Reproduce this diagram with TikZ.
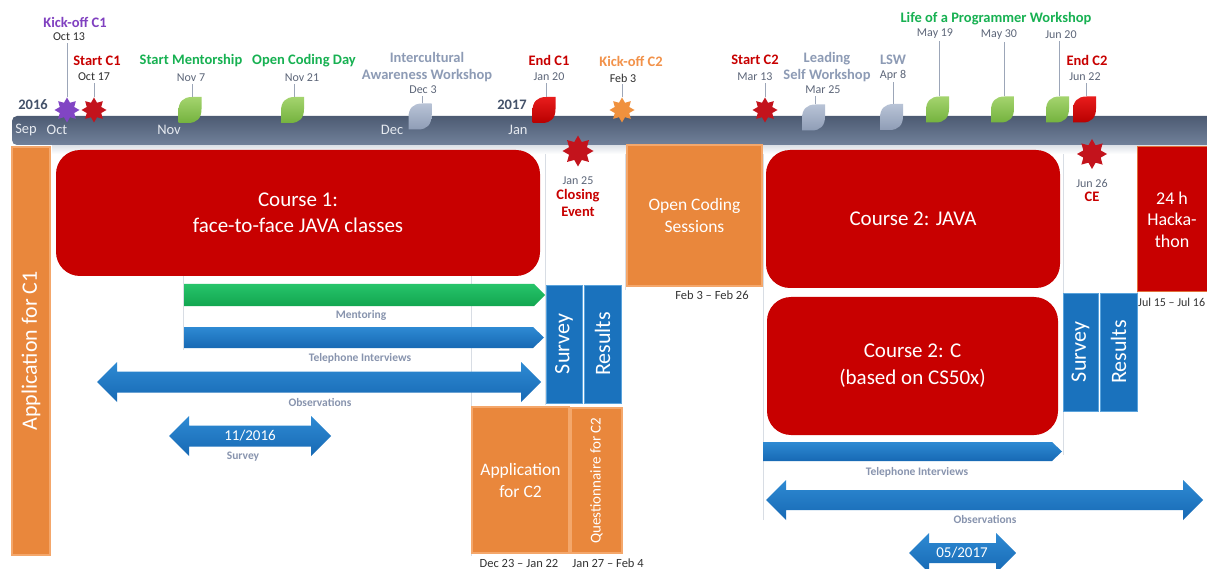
\documentclass[tikz,border=0pt]{standalone}
\usepackage{fontspec}
\setmainfont{Carlito}
\usetikzlibrary{shapes.geometric,positioning}
\definecolor{BarTop}{HTML}{4D5B73}
\definecolor{BarBot}{HTML}{71819A}
\definecolor{MonthWhite}{HTML}{E6EAF0}
\definecolor{YearSlate}{HTML}{44526A}
\definecolor{BoxRed}{HTML}{C80000}
\definecolor{HackEdge}{HTML}{E0703A}
\definecolor{BoxOrange}{HTML}{E9873C}
\definecolor{OrangeEdge}{HTML}{F4A76B}
\definecolor{BoxBlue}{HTML}{1A72BD}
\definecolor{BlueEdge}{HTML}{5AA3DC}
\definecolor{BlueTop}{HTML}{2E8AD3}
\definecolor{BlueBot}{HTML}{1769B4}
\definecolor{GreenTop}{HTML}{27C46A}
\definecolor{GreenBot}{HTML}{12A650}
\definecolor{LeafGreenTop}{HTML}{A4D46E}
\definecolor{LeafGreenBot}{HTML}{74B23E}
\definecolor{LeafRedTop}{HTML}{E81C1C}
\definecolor{LeafRedBot}{HTML}{B80000}
\definecolor{LeafGreyTop}{HTML}{B8C3D6}
\definecolor{LeafGreyBot}{HTML}{8F9DB6}
\definecolor{StarPurple}{HTML}{8145C4}
\definecolor{StarRed}{HTML}{C3131C}
\definecolor{StarOrange}{HTML}{F0913E}
\definecolor{TxtRed}{HTML}{C80000}
\definecolor{TxtGreen}{HTML}{17B152}
\definecolor{TxtSlate}{HTML}{8D9BB5}
\definecolor{TxtOrange}{HTML}{F2924A}
\definecolor{TxtPurple}{HTML}{8040C0}
\definecolor{DateGrey}{HTML}{5D6679}
\definecolor{DateDark}{HTML}{2E2E2E}
\definecolor{StemGrey}{HTML}{9CA6B8}
\definecolor{GridGrey}{HTML}{D8DDE4}
\definecolor{LabelGrey}{HTML}{8894AE}
\definecolor{RangeGrey}{HTML}{333333}

% milestone leaf: fill style, name of its top point, centre x, centre y
\newcommand{\leaf}[4]{%
  \shade[#1] ({#3-11.5},{#4+13}) -- ({#3-11.5},{#4+1}) .. controls ({#3-11.5},{#4-8}) and ({#3-7},{#4-13}) .. ({#3+2},{#4-13})
    -- ({#3+11.5},{#4-13}) -- ({#3+11.5},{#4-1}) .. controls ({#3+11.5},{#4+8}) and ({#3+7},{#4+13}) .. ({#3-2},{#4+13}) -- cycle;
  \coordinate (#2) at ({#3+2},{#4-13});}
% pointed bar: style, left, right, top, bottom, tip length
\newcommand{\pointbar}[6]{%
  \shade[#1] (#2,#4) -- ({#3-#6},#4) -- (#3,{(#4+#5)/2}) -- ({#3-#6},#5) -- (#2,#5) -- cycle;}
% two-headed bar: style, left, right, middle, half shaft, half head, head length
\newcommand{\spanbar}[7]{%
  \shade[#1] (#2,#4) -- ({#2+#7},{#4-#6}) -- ({#2+#7},{#4-#5}) -- ({#3-#7},{#4-#5}) -- ({#3-#7},{#4-#6})
    -- (#3,#4) -- ({#3-#7},{#4+#6}) -- ({#3-#7},{#4+#5}) -- ({#2+#7},{#4+#5}) -- ({#2+#7},{#4+#6}) -- cycle;}

\begin{document}
\begin{tikzpicture}[
      x=1pt, y=-1pt,
      font=\fontsize{12}{14}\selectfont,
      title/.style={font=\bfseries\fontsize{14.5}{17}\selectfont, inner sep=1pt, align=center},
      datelbl/.style={text=DateGrey, font=\fontsize{12}{14}\selectfont, inner sep=1.5pt},
      stem/.style={draw=StemGrey, line width=0.8pt},
      mstar/.style={star, star points=8, star point ratio=1.6, minimum size=25pt, inner sep=0pt},
      month/.style={text=MonthWhite, font=\fontsize{14.5}{16}\selectfont},
      year/.style={text=YearSlate, font=\bfseries\fontsize{14.5}{16}\selectfont},
      boxtext/.style={text=white, align=center, inner sep=0pt, font=\fontsize{21}{26.5}\selectfont},
      redbox/.style={boxtext, fill=BoxRed, rounded corners=24pt},
      orangebox/.style={boxtext, fill=BoxOrange, draw=OrangeEdge, line width=1.2pt},
      bluebox/.style={boxtext, fill=BoxBlue, draw=BlueEdge, line width=0.8pt, font=\fontsize{22}{26}\selectfont},
      spanlbl/.style={text=LabelGrey, font=\bfseries\fontsize{11.5}{13}\selectfont},
      rangelbl/.style={text=RangeGrey, font=\fontsize{12.5}{14}\selectfont},
      gridline/.style={draw=GridGrey, line width=0.8pt},
      bluefill/.style={top color=BlueTop, bottom color=BlueBot},
      greenfill/.style={top color=GreenTop, bottom color=GreenBot},
      greenleaf/.style={top color=LeafGreenTop, bottom color=LeafGreenBot},
      redleaf/.style={top color=LeafRedTop, bottom color=LeafRedBot},
      greyleaf/.style={top color=LeafGreyTop, bottom color=LeafGreyBot}
    ]
  \useasboundingbox (0,0) rectangle (1207,569);
  \fill[white] (0,0) rectangle (1207,569);

  \foreach \gx/\gy in {183/350, 471/556, 545/405, 625/290, 763/520, 1063/455, 1137/295}
    \draw[gridline] (\gx,150) -- (\gx,\gy);

  % time axis
  \shade[top color=GridGrey, bottom color=white] (52,144) rectangle (1207,154);
  \shade[top color=BarTop, bottom color=BarBot, rounded corners=5pt] (12,116) rectangle (1220,145);
  \node[year] (y2016) at (33,105) {2016};
  \node[year] (y2017) at (512,105) {2017};
  \foreach \m/\mx in {Sep/26, Oct/57, Nov/169, Dec/392, Jan/518}
    \node[month] (m\m) at (\mx,130) {\m};

  % milestones
  \node[mstar, fill=StarPurple] (kick1) at (67,110) {};
  \node[title, text=TxtPurple] (kick1t) at (75,22) {Kick-off C1};
  \node[datelbl, text=DateDark] (kick1d) at (69,37) {Oct 13};
  \draw[stem] (kick1.north) -- (kick1.north |- kick1d.south);

  \node[mstar, fill=StarRed] (start1) at (94,110) {};
  \node[title, text=TxtRed] (start1t) at (97,61) {Start C1};
  \node[datelbl, text=DateDark] (start1d) at (94,77) {Oct 17};
  \draw[stem] (start1.north) -- (start1.north |- start1d.south);

  \leaf{greenleaf}{mentor}{190}{110}
  \node[title, text=TxtGreen] (mentort) at (191,61) {Start Mentorship};
  \node[datelbl] (mentord) at (191,78) {Nov 7};
  \draw[stem] (mentor) -- (mentor |- mentord.south);

  \leaf{greenleaf}{ocday}{292.5}{110}
  \node[title, text=TxtGreen] (ocdayt) at (304,61) {Open Coding Day};
  \node[datelbl] (ocdayd) at (302,78) {Nov 21};
  \draw[stem] (ocday) -- (ocday |- ocdayd.south);

  \leaf{greyleaf}{icaw}{420}{116.5}
  \node[title, text=TxtSlate] (icawt) at (427,67) {Intercultural\\Awareness Workshop};
  \node[datelbl] (icawd) at (423,90) {Dec 3};
  \draw[stem] (icaw) -- (icaw |- icawd.south);

  \leaf{redleaf}{endc1}{544}{110}
  \node[title, text=TxtRed] (endc1t) at (549,60) {End C1};
  \node[datelbl] (endc1d) at (549,77) {Jan 20};
  \draw[stem] (endc1) -- (endc1 |- endc1d.south);

  \node[mstar, fill=StarOrange] (kick2) at (622,110) {};
  \node[title, text=TxtOrange] (kick2t) at (631,61) {Kick-off C2};
  \node[datelbl, text=DateDark] (kick2d) at (623,78) {Feb 3};
  \draw[stem] (kick2.north) -- (kick2.north |- kick2d.south);

  \node[mstar, fill=StarRed] (start2) at (765,110) {};
  \node[title, text=TxtRed] (start2t) at (755,60) {Start C2};
  \node[datelbl] (start2d) at (755,77) {Mar 13};
  \draw[stem] (start2.north) -- (start2.north |- start2d.south);

  \leaf{greyleaf}{leading}{813.5}{117.5}
  \node[title, text=TxtSlate] (leadingt) at (827,67) {Leading\\Self Workshop};
  \node[datelbl] (leadingd) at (823,90) {Mar 25};
  \draw[stem] (leading) -- (leading |- leadingd.south);

  \leaf{greyleaf}{lsw}{891.5}{117}
  \node[title, text=TxtSlate] (lswt) at (893,60) {LSW};
  \node[datelbl] (lswd) at (893,75) {Apr 8};
  \draw[stem] (lsw) -- (lsw |- lswd.south);

  \node[title, text=TxtGreen] (lpwt) at (996,19) {Life of a Programmer Workshop};
  \leaf{greenleaf}{may19}{937.5}{109.5}
  \node[datelbl] (may19d) at (935,34) {May 19};
  \draw[stem] (may19) -- (may19 |- may19d.south);
  \leaf{greenleaf}{may30}{1002.5}{109.5}
  \node[datelbl] (may30d) at (999,35) {May 30};
  \draw[stem] (may30) -- (may30 |- may30d.south);
  \leaf{greenleaf}{jun20}{1057.5}{109.5}
  \node[datelbl] (jun20d) at (1061,35) {Jun 20};
  \draw[stem] (jun20) -- (jun20 |- jun20d.south);

  \leaf{redleaf}{endc2}{1084.5}{109.5}
  \node[title, text=TxtRed] (endc2t) at (1087,60) {End C2};
  \node[datelbl] (endc2d) at (1085,77) {Jun 22};
  \draw[stem] (endc2) -- (endc2 |- endc2d.south);

  % course one
  \node[orangebox, rotate=90, minimum width=408pt, minimum height=38pt, font=\fontsize{22}{26}\selectfont] (appc1) at (31,351) {Application for C1};
  \node[redbox, minimum width=484pt, minimum height=126pt] (course1) at (298,213) {Course 1:\\face-to-face JAVA classes};
  \pointbar{greenfill}{184}{545}{284}{306}{11}
  \node[spanlbl] (mentorl) at (361,315) {Mentoring};
  \pointbar{bluefill}{184}{544}{327}{348}{11}
  \node[spanlbl] (tel1l) at (360,358) {Telephone Interviews};
  \spanbar{bluefill}{97}{541}{382}{10.5}{20}{20}
  \node[spanlbl] (obs1l) at (320,402) {Observations};
  \spanbar{bluefill}{169}{331}{436}{10.5}{20}{20}
  \node[text=white, font=\fontsize{15}{18}\selectfont] (srv16) at (250,436) {11/2016};
  \node[spanlbl] (srv16l) at (243,457) {Survey};

  \node[mstar, fill=StarRed, minimum size=31pt] (closing) at (578,151) {};
  \node[datelbl, below=8pt of closing] (closingd) {Jan 25};
  \node[title, text=TxtRed, below=2pt of closingd] (closingt) {Closing\\Event};
  \node[bluebox, rotate=90, minimum width=118pt, minimum height=36pt] (surv1) at (564,344) {Survey};
  \node[bluebox, rotate=90, minimum width=118pt, minimum height=37pt] (res1) at (602.5,344) {Results};

  \node[orangebox, minimum width=97pt, minimum height=146pt, font=\fontsize{17.5}{22}\selectfont] (appc2) at (520.5,480) {Application\\for C2};
  \node[rangelbl] (appc2r) at (519,563) {Dec 23 – Jan 22};
  \node[orangebox, rotate=90, minimum width=145pt, minimum height=51pt, font=\fontsize{15}{18}\selectfont] (quest) at (596.5,480.5) {Questionnaire for C2};
  \node[rangelbl] (questr) at (608,563) {Jan 27 – Feb 4};

  \node[orangebox, minimum width=135pt, minimum height=141pt, font=\fontsize{17.5}{22}\selectfont] (opencs) at (694.5,215.5) {Open Coding\\Sessions};
  \node[rangelbl] (opencsr) at (712,295) {Feb 3 – Feb 26};

  % course two
  \node[redbox, minimum width=294pt, minimum height=138pt] (course2j) at (913,219) {Course 2: JAVA};
  \node[redbox, minimum width=291pt, minimum height=138pt, font=\fontsize{21}{27}\selectfont] (course2c) at (912.5,366) {Course 2: C\\(based on CS50x)};
  \pointbar{bluefill}{763}{1062}{442}{461}{10}
  \node[spanlbl] (tel2l) at (917,472) {Telephone Interviews};
  \spanbar{bluefill}{766}{1203}{500}{10}{20}{20}
  \node[spanlbl] (obs2l) at (985,519) {Observations};
  \spanbar{bluefill}{909}{1016}{553}{10}{20}{20}
  \node[text=white, font=\fontsize{15}{18}\selectfont] (srv17) at (962,553) {05/2017};

  \node[mstar, fill=StarRed, minimum size=30pt] (ce) at (1092,154) {};
  \node[datelbl, below=8pt of ce] (ced) {Jun 26};
  \node[title, text=TxtRed, below=2pt of ced] (cet) {CE};
  \node[bluebox, rotate=90, minimum width=118pt, minimum height=35pt] (surv2) at (1080.5,352) {Survey};
  \node[bluebox, rotate=90, minimum width=118pt, minimum height=37pt] (res2) at (1118.5,352) {Results};

  \node[redbox, sharp corners, draw=HackEdge, line width=1pt, minimum width=70pt, minimum height=145pt, font=\fontsize{18}{21.5}\selectfont] (hack) at (1172,219.5) {24 h\\Hacka-\\thon};
  \node[rangelbl, anchor=west, inner sep=0pt, font=\fontsize{12}{14}\selectfont] (hackr) at (1138,302) {Jul 15 – Jul 16};
\end{tikzpicture}
\end{document}
